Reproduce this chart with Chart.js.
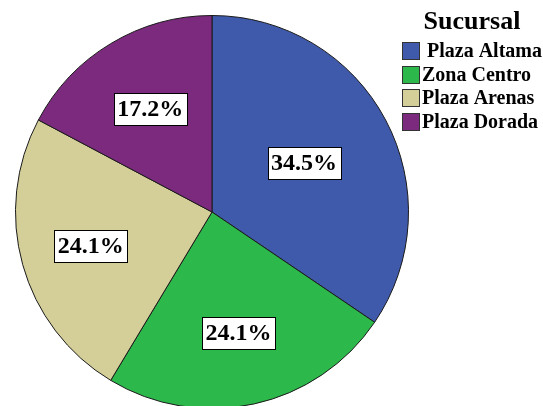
<!DOCTYPE html>
<html>
<head>
<meta charset="utf-8">
<script src="https://cdn.jsdelivr.net/npm/chart.js@4.4.1/dist/chart.umd.min.js"></script>
<style>
    html, body { margin: 0; padding: 0; background: #fff; overflow: hidden; }
    #wrap { width: 543px; height: 424px; }
</style>
</head>
<body>
<div id="wrap"><canvas id="pieChart" width="543" height="424"></canvas></div>
<script>
const legendTitle = "Sucursal";
const sucursales = [" Plaza Altama", "Zona Centro", "Plaza Arenas", "Plaza Dorada"];
const conteos = [10, 7, 7, 5];
const colores = ["#3F5AAB", "#2DB84B", "#D4CE98", "#7C2A7E"];

// label distance from the centre, as a fraction of the radius, per slice
const labelRadius = [0.53, 0.63, 0.64, 0.61];

const serif = "'Liberation Serif', 'Times New Roman', serif";

// percentage boxes inside each slice
const boxLabels = {
    id: "boxLabels",
    afterDatasetsDraw(chart) {
        const ctx = chart.ctx;
        const meta = chart.getDatasetMeta(0);
        const data = chart.data.datasets[0].data;
        const total = data.reduce((a, b) => a + b, 0);
        ctx.save();
        ctx.font = "bold 24px " + serif;
        ctx.textAlign = "center";
        ctx.textBaseline = "middle";
        meta.data.forEach((arc, i) => {
            const mid = (arc.startAngle + arc.endAngle) / 2;
            const r = arc.outerRadius * labelRadius[i];
            const x = arc.x + Math.cos(mid) * r;
            const y = arc.y + Math.sin(mid) * r;
            const text = (data[i] / total * 100).toFixed(1) + "%";
            const w = ctx.measureText(text).width + 7;
            const h = 32;
            ctx.fillStyle = "#fff";
            ctx.fillRect(Math.round(x - w / 2), Math.round(y - h / 2), Math.round(w), h);
            ctx.strokeStyle = "#000";
            ctx.lineWidth = 1;
            ctx.strokeRect(Math.round(x - w / 2) + 0.5, Math.round(y - h / 2) + 0.5, Math.round(w), h);
            ctx.fillStyle = "#000";
            ctx.fillText(text, x, y + 1);
        });
        ctx.restore();
    }
};

// legend block in the top right corner
const sideLegend = {
    id: "sideLegend",
    afterDraw(chart) {
        const ctx = chart.ctx;
        ctx.save();
        ctx.fillStyle = "#000";
        ctx.font = "bold 26px " + serif;
        ctx.textAlign = "center";
        ctx.textBaseline = "alphabetic";
        ctx.fillText(legendTitle, 472, 29);
        ctx.font = "bold 20px " + serif;
        ctx.textAlign = "left";
        ctx.textBaseline = "middle";
        chart.data.labels.forEach((lab, i) => {
            const y = Math.round(42 + i * 23.5);
            ctx.fillStyle = colores[i];
            ctx.fillRect(402, y, 18, 18);
            ctx.strokeStyle = "#333";
            ctx.lineWidth = 1;
            ctx.strokeRect(402.5, y + 0.5, 17, 17);
            ctx.fillStyle = "#000";
            ctx.fillText(lab, 422, y + 10);
        });
        ctx.restore();
    }
};

new Chart(document.getElementById("pieChart"), {
    type: "pie",
    data: {
        labels: sucursales,
        datasets: [{
            data: conteos,
            backgroundColor: colores,
            borderColor: "#1a1a1a",
            borderWidth: 1
        }]
    },
    options: {
        responsive: false,
        animation: false,
        layout: { padding: { left: 15, top: 15, right: 134, bottom: 15 } },
        plugins: {
            legend: { display: false },
            tooltip: { enabled: false }
        }
    },
    plugins: [boxLabels, sideLegend]
});
</script>
</body>
</html>
